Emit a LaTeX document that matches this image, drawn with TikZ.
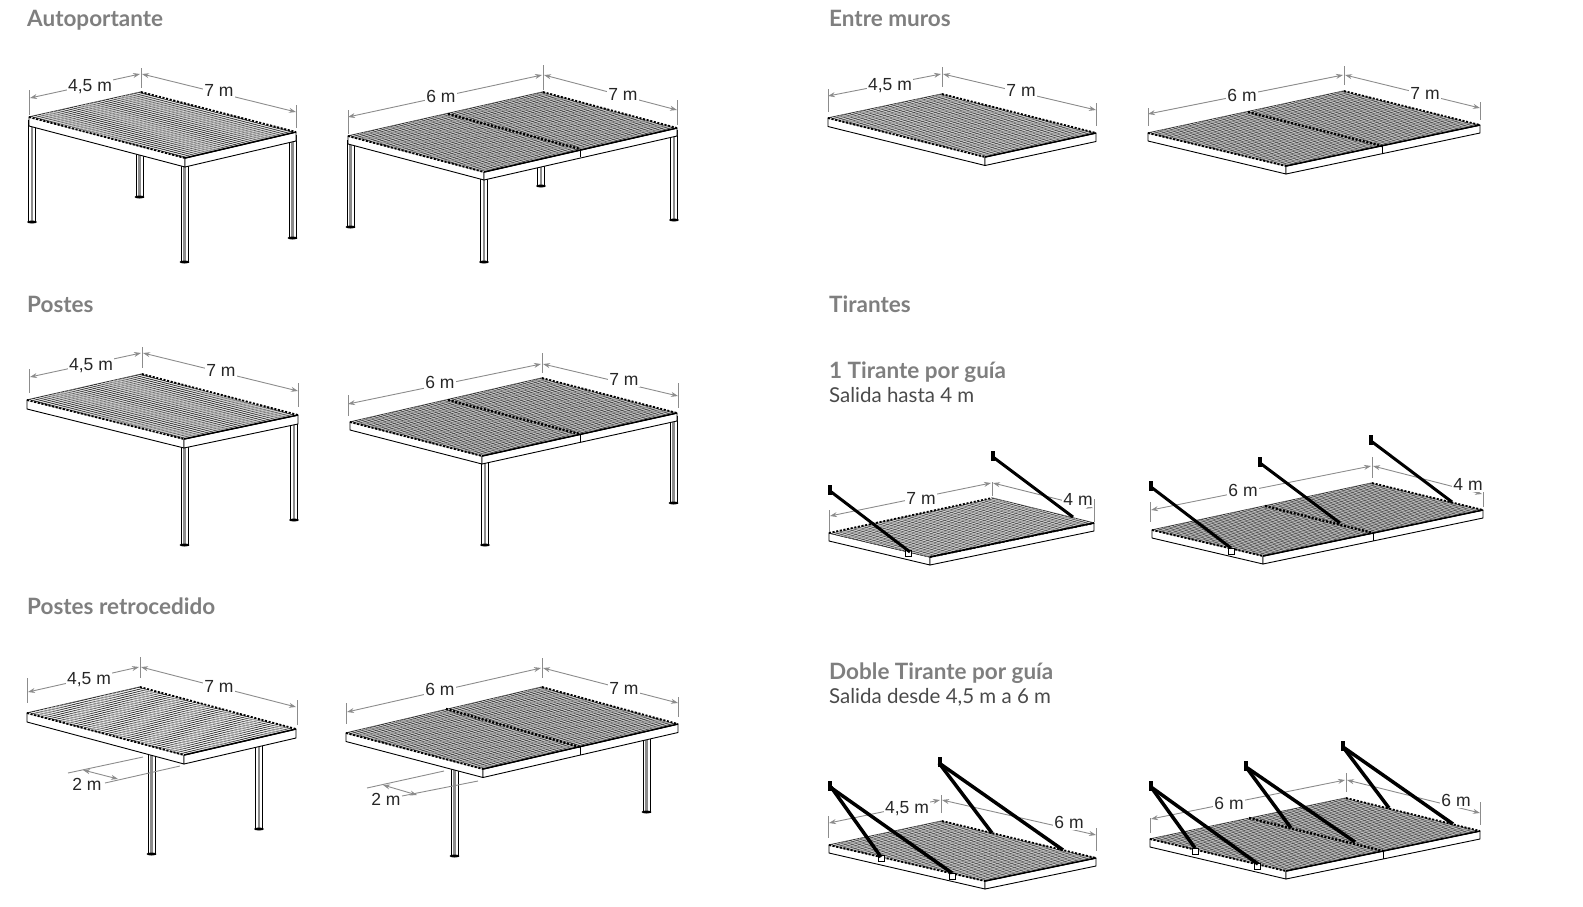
\documentclass[tikz,border=0pt]{standalone}
\usepackage{fontspec}
\setmainfont{Lato}
\newfontfamily\dimfont{Liberation Sans}
\usepackage{tikz}
\usetikzlibrary{calc,arrows.meta}

\definecolor{titlegray}{HTML}{7F7F7F}
\definecolor{subgray}{HTML}{4A4A4A}
\definecolor{dimgray}{HTML}{8C8C8C}

\tikzset{
  heading/.style={anchor=base west, inner sep=0pt, text=titlegray, font=\fontsize{22.5}{25}\selectfont\bfseries},
  subheading/.style={anchor=base west, inner sep=0pt, text=subgray, font=\fontsize{20.5}{23}\selectfont},
  dimlabel/.style={fill=white, inner sep=1pt, yshift=-1.5pt, text=black!85, font=\dimfont\fontsize{17.5}{20}\selectfont},
  dimline/.style={draw=dimgray, line width=0.9pt, {Stealth[length=7pt,width=5pt]}-{Stealth[length=7pt,width=5pt]}},
  dimtick/.style={draw=dimgray, line width=0.9pt},
  dimext/.style={draw=dimgray, line width=0.9pt},
  beam/.style={draw=black, line width=0.9pt, fill=white, line join=round},
  edge/.style={draw=black, line width=1.5pt},
  slat/.style={draw=black!80, line width=1.1pt},
  crossing/.style={draw=white, line width=0.9pt, opacity=0.55},
  teeth/.style={draw=black, line width=1.8pt, dash pattern=on 2pt off 1.7pt},
  postline/.style={draw=black, line width=0.9pt, fill=white},
  rod/.style={draw=black, line width=3pt},
  doublerod/.style={draw=black, line width=3.5pt},
  joint/.style={draw=black, line width=0.8pt, fill=white}
}

% Roof block: left, back, right, front corners and the height of the beam
\newcommand{\roof}[5]{
  \coordinate (L) at (#1);
  \coordinate (B) at (#2);
  \coordinate (R) at (#3);
  \coordinate (F) at (#4);
  \draw[beam] (L) -- (F) -- ($(F)+(0,#5)$) -- ($(L)+(0,#5)$) -- cycle;
  \draw[beam] (F) -- (R) -- ($(R)+(0,#5)$) -- ($(F)+(0,#5)$) -- cycle;
  \fill[white] (L) -- (B) -- (R) -- (F) -- cycle;
}
% Slats: run from edge #1-#2 to edge #3-#4
\newcommand{\slats}[6]{
  \foreach \n in {0,...,#5}
    \draw[slat] ($(#1)!\n/#5!(#2)$) -- ($(#3)!\n/#5!(#4)$);
  \foreach \n in {0,...,#6}
    \draw[crossing] ($(#1)!\n/#6!(#3)$) -- ($(#2)!\n/#6!(#4)$);
  \draw[teeth] (#1) -- (#2);
  \draw[teeth] (#3) -- (#4);
  \draw[edge] (F) -- (R);
}
\newcommand{\divider}[3]{
  \draw[teeth, line width=2.4pt] (#1) -- (#2);
  \draw[black, line width=0.9pt] (#2) -- ($(#2)+(0,#3)$);
}
\newcommand{\post}[3]{
  \draw[postline] (#1-3.5,#2) rectangle (#1+3.5,#3);
  \fill[black!45] (#1-1.2,#2) rectangle (#1+1.2,#3);
  \fill[black] (#1,#3) ellipse [x radius=5, y radius=1.5];
}
\newcommand{\wallplate}[1]{
  \fill[black] ($(#1)+(-2,-6)$) rectangle ($(#1)+(2,4)$);
}
\newcommand{\joint}[1]{
  \draw[joint] ($(#1)+(-3,-3)$) rectangle ($(#1)+(3,3)$);
}

\begin{document}
\begin{tikzpicture}[x=1pt, y=-1pt]
    \useasboundingbox (0,0) rectangle (1583,906);
    % Headings
    \node [heading] (autoportante) at (27,26) {Autoportante};
    \node [heading] (entremuros) at (829,26) {Entre muros};
    \node [heading] (postes) at (27,312) {Postes};
    \node [heading] (retrocedido) at (27,614) {Postes retrocedido};
    \node [heading] (tirantes) at (829,312) {Tirantes};
    \node [heading] (unotirante) at (829,378) {1 Tirante por guía};
    \node [subheading] (unosalida) at (829,402) {Salida hasta 4 m};
    \node [heading] (dobletirante) at (829,679) {Doble Tirante por guía};
    \node [subheading] (doblesalida) at (829,703) {Salida desde 4,5 m a 6 m};

    % Autoportante 4,5 x 7
    \post{32}{120}{222}
    \post{139.5}{150}{197}
    \post{184.5}{160}{262}
    \post{292.5}{135}{238}
    \roof{29,117}{141,92}{296,132}{185,158}{9}
    \slats{L}{F}{B}{R}{40}{28}
    \draw[dimtick] (29,90) -- (29,115);
    \draw[dimtick] (141,68) -- (141,88);
    \draw[dimtick] (296,105) -- (296,128);
    \draw[dimline] (30,98) -- (140,74);
    \draw[dimline] (142,74) -- (296,112);
    \node [dimlabel] (autoa) at (90,85) {4,5 m};
    \node [dimlabel] (autob) at (219,89) {7 m};

    % Autoportante 6 x 7
    \post{350.5}{140}{227}
    \post{541}{160}{186}
    \post{484}{175}{262}
    \post{674}{130}{220}
    \roof{348,136}{543,92}{677,128}{484,172}{8}
    \slats{L}{F}{B}{R}{44}{52}
    \divider{448,114}{580,149}{8}
    \draw[dimtick] (348,110) -- (348,134);
    \draw[dimtick] (543,65) -- (543,90);
    \draw[dimtick] (677,100) -- (677,125);
    \draw[dimline] (348,117) -- (542,75);
    \draw[dimline] (544,75) -- (677,110);
    \node [dimlabel] (autoc) at (441,95) {6 m};
    \node [dimlabel] (autod) at (623,93) {7 m};

    % Entre muros 4,5 x 7
    \roof{828,118}{942,94}{1096,133}{985,157}{8.5}
    \slats{L}{F}{B}{R}{46}{30}
    \draw[dimtick] (828,89) -- (828,112);
    \draw[dimtick] (942,67) -- (942,87);
    \draw[dimtick] (1096,103) -- (1096,126);
    \draw[dimline] (828,96) -- (941,74);
    \draw[dimline] (943,74) -- (1096,110);
    \node [dimlabel] (murosa) at (890,84) {4,5 m};
    \node [dimlabel] (murosb) at (1021,89) {7 m};

    % Entre muros 6 x 7
    \roof{1148,133}{1344,91}{1480,125}{1286,166}{8}
    \slats{L}{F}{B}{R}{44}{52}
    \divider{1248,112}{1382,146}{8}
    \draw[dimtick] (1148,108) -- (1148,126);
    \draw[dimtick] (1344,66) -- (1344,85);
    \draw[dimtick] (1480,102) -- (1480,120);
    \draw[dimline] (1148,114) -- (1343,75);
    \draw[dimline] (1345,75) -- (1480,108);
    \node [dimlabel] (murosc) at (1242,94) {6 m};
    \node [dimlabel] (murosd) at (1425,92) {7 m};

    % Postes 4,5 x 7
    \post{184.5}{445}{545}
    \post{294}{420}{520}
    \roof{27,400}{142,374}{298,415}{184,439}{9}
    \slats{L}{F}{B}{R}{40}{28}
    \draw[dimtick] (29,369) -- (29,393);
    \draw[dimtick] (142,347) -- (142,368);
    \draw[dimtick] (298,383) -- (298,407);
    \draw[dimline] (30,377) -- (141,353);
    \draw[dimline] (143,353) -- (298,391);
    \node [dimlabel] (postesa) at (91,364) {4,5 m};
    \node [dimlabel] (postesb) at (221,369) {7 m};

    % Postes 6 x 7
    \post{485}{460}{545}
    \post{673.5}{416}{503}
    \roof{350,422}{542,378}{677,413}{482,456}{8}
    \slats{L}{F}{B}{R}{44}{52}
    \divider{448,400}{580,434}{8}
    \draw[dimtick] (348,395) -- (348,416);
    \draw[dimtick] (542,353) -- (542,373);
    \draw[dimtick] (678,383) -- (678,408);
    \draw[dimline] (348,404) -- (541,364);
    \draw[dimline] (543,364) -- (678,396);
    \node [dimlabel] (postesc) at (440,381) {6 m};
    \node [dimlabel] (postesd) at (624,378) {7 m};

    % Postes retrocedido 4,5 x 7
    \post{151.5}{750}{854}
    \post{259}{740}{829}
    \roof{27,713}{140,687}{296,729}{184,755}{9}
    \slats{L}{F}{B}{R}{36}{28}
    \draw[dimtick] (27,678) -- (27,703);
    \draw[dimtick] (140,657) -- (140,678);
    \draw[dimtick] (297,700) -- (297,725);
    \draw[dimline] (28,692) -- (139,667);
    \draw[dimline] (141,667) -- (296,707);
    \draw[dimext] (68,773) -- (143,757);
    \draw[dimext] (105,783) -- (180,766);
    \draw[dimline] (83,770) -- (118,779);
    \node [dimlabel] (retroa) at (89,678) {4,5 m};
    \node [dimlabel] (retrob) at (219,685) {7 m};
    \node [dimlabel, fill=none] (retroc) at (87,783) {2 m};

    % Postes retrocedido 6 x 7
    \post{454.5}{760}{856}
    \post{646.5}{735}{812}
    \roof{346,733}{542,687}{678,724}{483,769}{8.5}
    \slats{L}{F}{B}{R}{44}{52}
    \divider{446,709}{580,747}{8}
    \draw[dimtick] (346,703) -- (346,724);
    \draw[dimtick] (542,658) -- (542,678);
    \draw[dimtick] (678,697) -- (678,717);
    \draw[dimline] (347,712) -- (541,668);
    \draw[dimline] (543,668) -- (678,703);
    \draw[dimext] (367,788) -- (444,771);
    \draw[dimext] (402,796) -- (478,781);
    \draw[dimline] (383,785) -- (417,795);
    \node [dimlabel] (retrod) at (440,688) {6 m};
    \node [dimlabel] (retroe) at (624,687) {7 m};
    \node [dimlabel, fill=none] (retrof) at (386,798) {2 m};

    % 1 tirante 7 x 4
    \roof{829,533}{992,498}{1094,523}{930,557}{8}
    \slats{L}{B}{F}{R}{46}{28}
    \draw[dimtick] (829,510) -- (829,532);
    \draw[dimtick] (992,482) -- (992,496);
    \draw[dimtick] (1094,499) -- (1094,522);
    \draw[dimline] (830,516) -- (991,483);
    \draw[dimline] (993,483) -- (1093,508);
    \node [dimlabel] (unoa) at (921,497) {7 m};
    \node [dimlabel] (unob) at (1078,498) {4 m};
    \joint{908,553}
    \wallplate{830,491}
    \wallplate{993,457}
    \draw[rod] (830,491) -- (910,552);
    \draw[rod] (993,457) -- (1073,517);

    % 1 tirante 6 x 4
    \roof{1152,530}{1372,483}{1483,510}{1263,556}{8}
    \slats{L}{F}{B}{R}{38}{60}
    \divider{1265,506}{1373,533}{8}
    \draw[dimtick] (1150,502) -- (1150,522);
    \draw[dimtick] (1372,457) -- (1372,478);
    \draw[dimtick] (1483,482) -- (1483,507);
    \draw[dimline] (1151,510) -- (1371,466);
    \draw[dimline] (1373,466) -- (1482,494);
    \node [dimlabel] (unoc) at (1243,489) {6 m};
    \node [dimlabel] (unod) at (1468,483) {4 m};
    \joint{1231,551}
    \wallplate{1151,487}
    \wallplate{1260,463}
    \wallplate{1371,441}
    \draw[rod] (1151,487) -- (1231,548);
    \draw[rod] (1260,463) -- (1340,523);
    \draw[rod] (1371,441) -- (1452,502);

    % Doble tirante 4,5 x 6
    \roof{829,845}{942,821}{1096,858}{985,881}{8}
    \slats{L}{F}{B}{R}{46}{30}
    \draw[dimtick] (828,816) -- (828,838);
    \draw[dimtick] (941,795) -- (941,813);
    \draw[dimtick] (1096,828) -- (1096,851);
    \draw[dimline] (829,823) -- (940,800);
    \draw[dimline] (942,800) -- (1096,835);
    \node [dimlabel] (doblea) at (907,807) {4,5 m};
    \node [dimlabel] (dobleb) at (1069,821) {6 m};
    \joint{881,858}
    \joint{952,876}
    \wallplate{830,787}
    \wallplate{940,763}
    \draw[doublerod] (830,787) -- (952,873);
    \draw[doublerod] (831,787) -- (881,857);
    \draw[doublerod] (939,763) -- (1063,850);
    \draw[doublerod] (939,763) -- (992,833);

    % Doble tirante 6 x 6
    \roof{1150,839}{1346,798}{1480,831}{1286,871}{8}
    \slats{L}{F}{B}{R}{44}{52}
    \divider{1249,818}{1383,851}{8}
    \draw[dimtick] (1150,818) -- (1150,833);
    \draw[dimtick] (1346,773) -- (1346,792);
    \draw[dimtick] (1480,802) -- (1480,825);
    \draw[dimline] (1151,819) -- (1345,780);
    \draw[dimline] (1347,780) -- (1480,813);
    \node [dimlabel] (doblec) at (1229,802) {6 m};
    \node [dimlabel] (dobled) at (1456,799) {6 m};
    \joint{1195,851}
    \joint{1257,866}
    \wallplate{1151,787}
    \wallplate{1246,767}
    \wallplate{1343,747}
    \draw[doublerod] (1151,787) -- (1258,864);
    \draw[doublerod] (1151,787) -- (1195,848);
    \draw[doublerod] (1246,767) -- (1355,842);
    \draw[doublerod] (1246,767) -- (1291,828);
    \draw[doublerod] (1343,747) -- (1453,824);
    \draw[doublerod] (1343,747) -- (1389,808);
\end{tikzpicture}
\end{document}
